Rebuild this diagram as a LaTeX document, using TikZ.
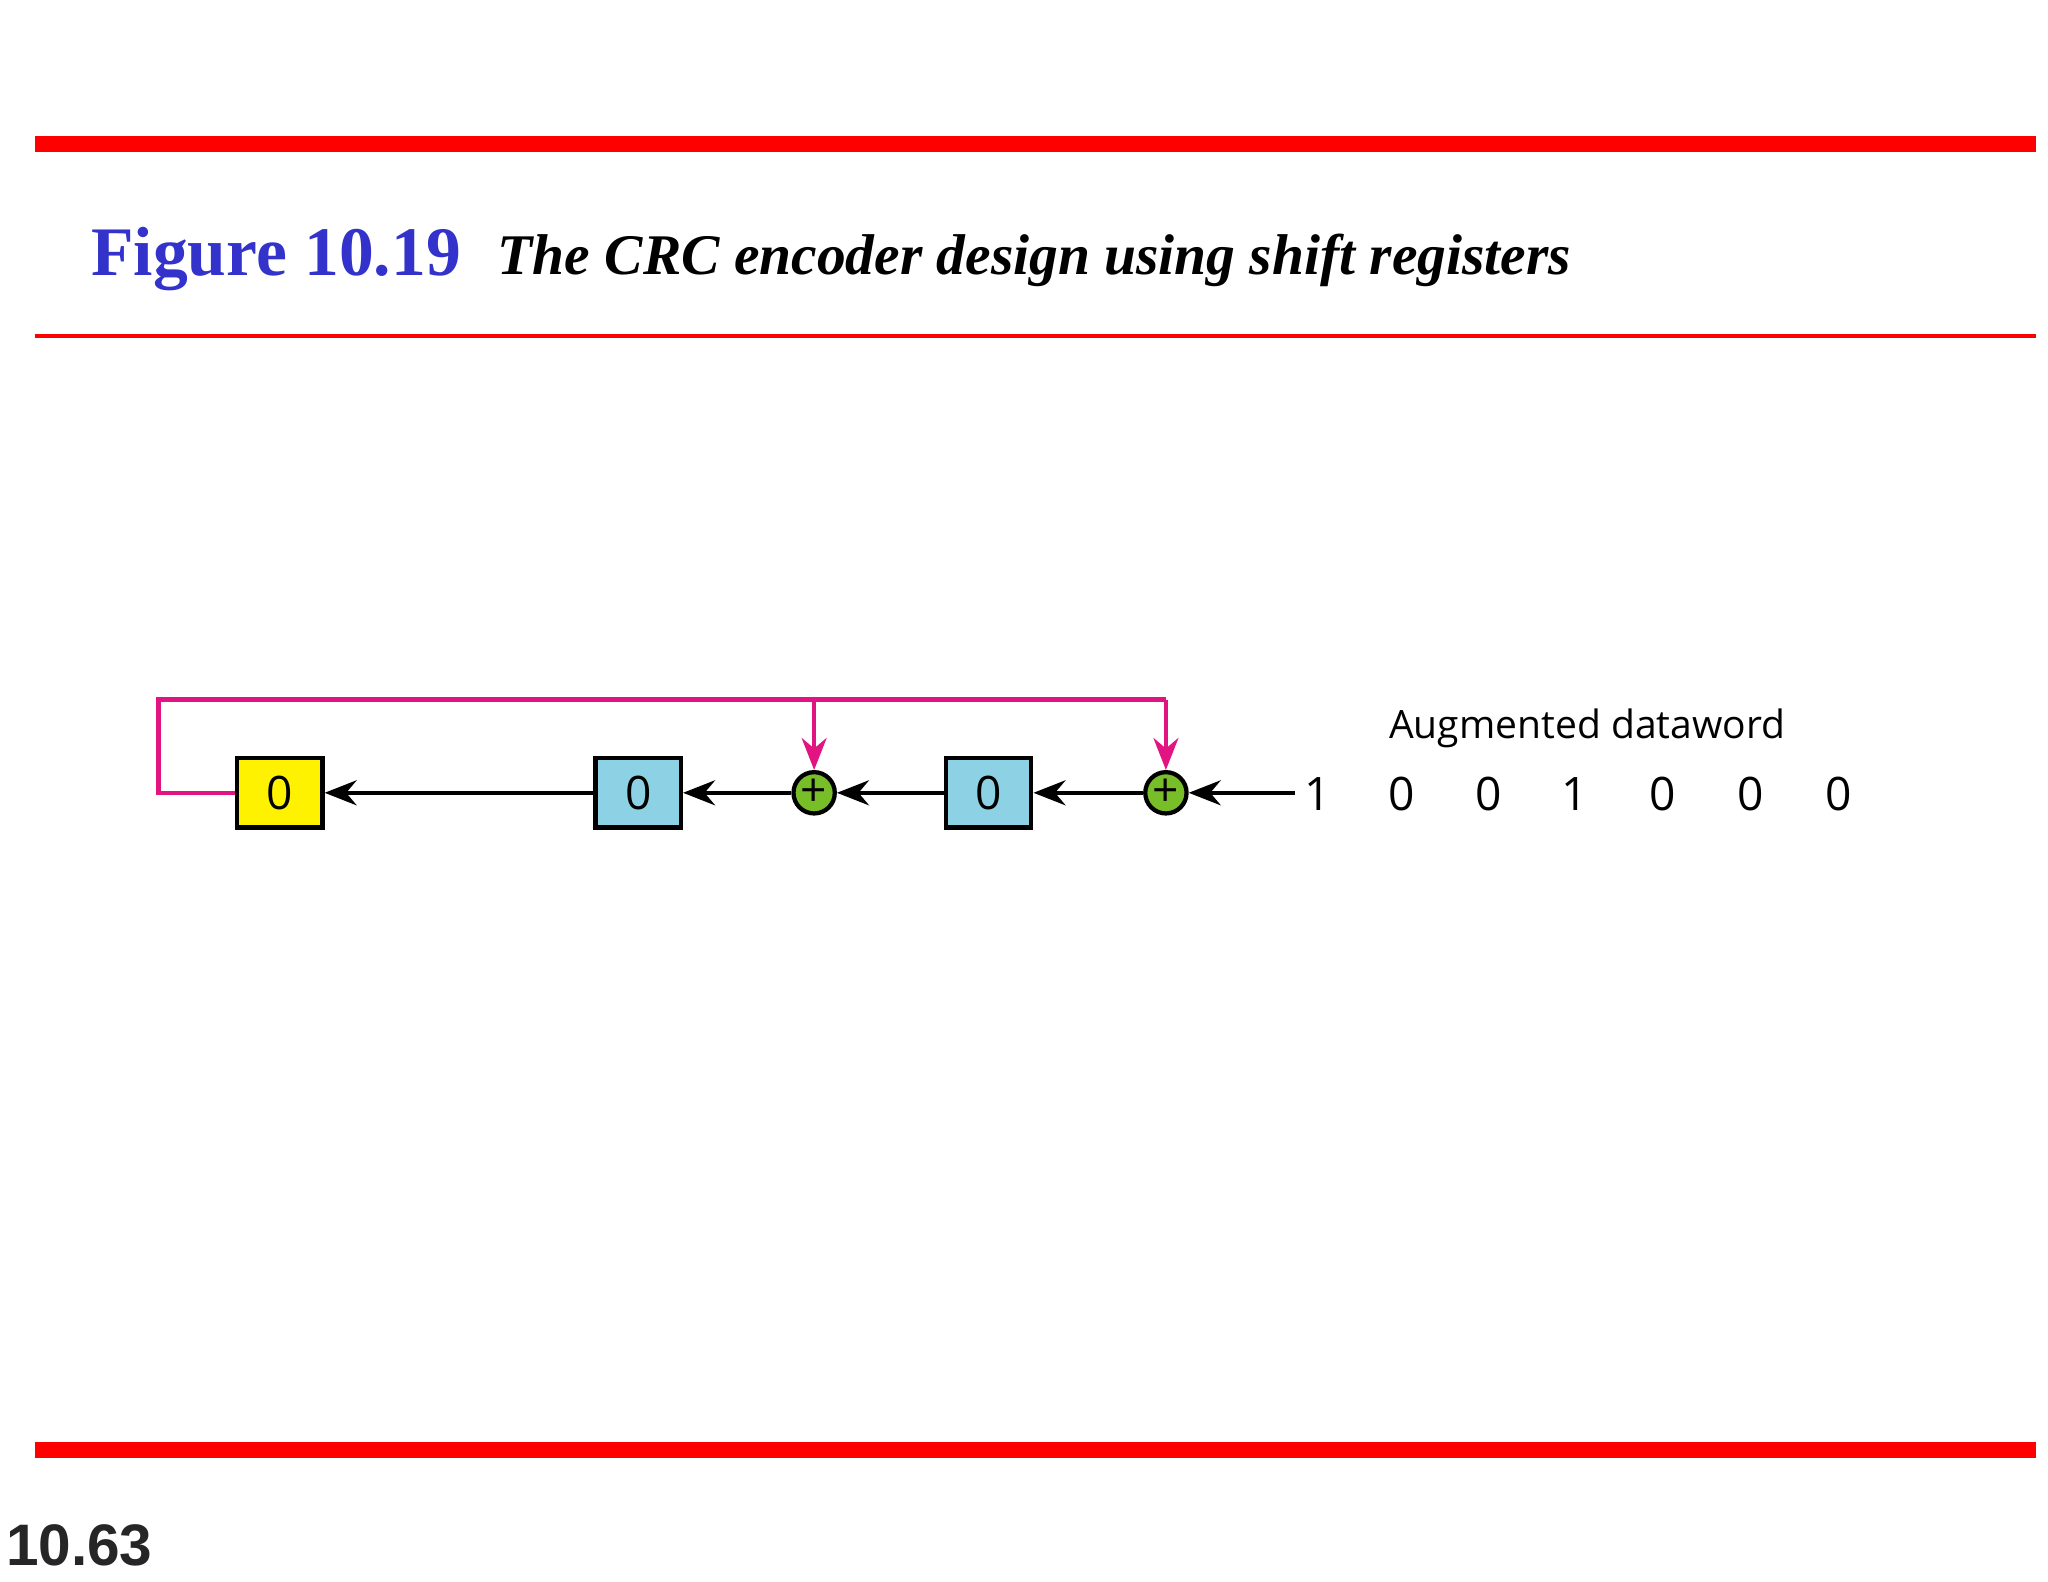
\documentclass[tikz,border=0pt]{standalone}
\usepackage{fontspec}
\setmainfont{Liberation Serif}
\newfontfamily\dsans{Open Sans}
\newfontfamily\lsans{Liberation Sans}
\usetikzlibrary{arrows.meta}
\definecolor{titleblue}{RGB}{51,51,204}
\definecolor{regblue}{RGB}{140,210,228}
\definecolor{xorgreen}{RGB}{120,190,40}
\definecolor{fbmag}{RGB}{225,20,130}
\tikzset{
 reg/.style={draw,line width=1.2pt,minimum width=64*0.0132cm,minimum height=52*0.0132cm,inner sep=0pt,font=\dsans\fontsize{13}{13}\selectfont},
 xor/.style={circle,draw,line width=1.2pt,fill=xorgreen,minimum size=31*0.0132cm,inner sep=0pt,font=\dsans\fontsize{13}{13}\selectfont},
 sig/.style={line width=1.3pt,-{Stealth[length=9pt,width=7pt]}},
 fb/.style={line width=1.3pt,draw=fbmag},
 bit/.style={font=\dsans\fontsize{13}{13}\selectfont,inner sep=0pt}
}
\begin{document}
\begin{tikzpicture}[x=0.0132cm,y=-0.0132cm]
\useasboundingbox (0,0) rectangle (1537,1187);
\fill[red] (26,102) rectangle (1528,114);
\fill[red] (26,251) rectangle (1528,254);
\fill[red] (26,1082) rectangle (1528,1094);
\node[anchor=base west,inner sep=0pt,text=titleblue,font=\bfseries\fontsize{19.6}{20}\selectfont] at (68,207) {Figure 10.19};
\node[anchor=base west,inner sep=0pt,font=\bfseries\itshape\fontsize{16.2}{16.2}\selectfont] at (373,206) {The CRC encoder design using shift registers};
\node[anchor=base west,inner sep=0pt,font=\lsans\bfseries\fontsize{16.5}{16.5}\selectfont,text=black!85] at (4,1175) {10.63};
% diagram
\node[reg,fill=yellow] (r2) at (210,595) {0};
\node[reg,fill=regblue] (r1) at (479,595) {0};
\node[xor] (x1) at (611,595) {+};
\node[reg,fill=regblue] (r0) at (742,595) {0};
\node[xor] (x0) at (875,595) {+};
\coordinate (in) at (972,595);
\draw[sig] (in) -- (x0);
\draw[sig] (x0) -- (r0);
\draw[sig] (r0) -- (x1);
\draw[sig] (x1) -- (r1);
\draw[sig] (r1) -- (r2);
\coordinate (c1) at (119,595);
\coordinate (c2) at (119,525);
\coordinate (c3) at (875,525);
\coordinate (c4) at (611,525);
\draw[fb] (r2.west) -- (c1) -- (c2) -- (c3);
\draw[fb,-{Stealth[length=9pt,width=7pt]},fill=fbmag] (c3) -- (x0.north);
\draw[fb,-{Stealth[length=9pt,width=7pt]},fill=fbmag] (c4) -- (x1.north);
\node[bit] (b0) at (989,596) {1};
\node[bit] (b1) at (1052,596) {0};
\node[bit] (b2) at (1117,596) {0};
\node[bit] (b3) at (1182,596) {1};
\node[bit] (b4) at (1248,596) {0};
\node[bit] (b5) at (1314,596) {0};
\node[bit] (b6) at (1380,596) {0};
\node[bit,anchor=west,font=\dsans\fontsize{11}{11}\selectfont] (lab) at (1042,547) {Augmented dataword};
\end{tikzpicture}
\end{document}
